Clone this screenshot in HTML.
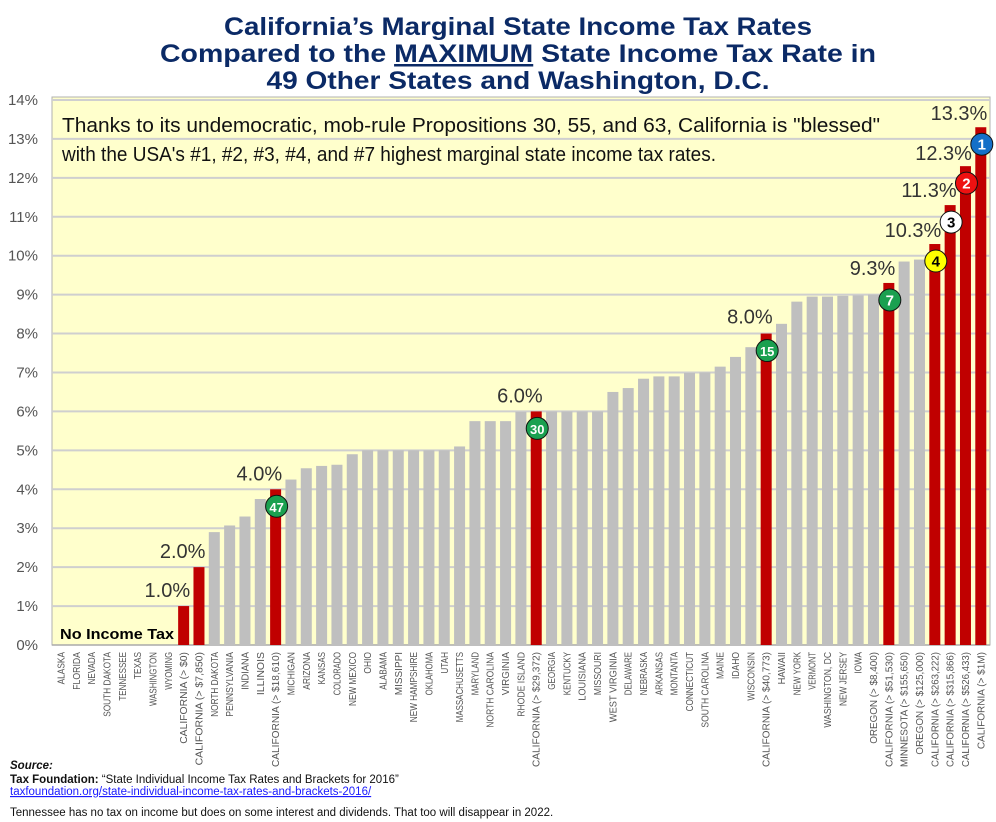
<!DOCTYPE html>
<html><head><meta charset="utf-8"><style>
body{margin:0;background:#fff;width:996px;height:822px;overflow:hidden;font-family:"Liberation Sans",sans-serif}
svg{display:block}
</style></head><body>
<svg id="chart" width="996" height="822">
  <g font-family="Liberation Sans Narrow, Liberation Sans, sans-serif" font-weight="bold" font-size="25" fill="#0b2a66" text-anchor="middle">
    <text x="518" y="35" textLength="588" lengthAdjust="spacingAndGlyphs">California’s Marginal State Income Tax Rates</text>
    <text x="518" y="62" textLength="716" lengthAdjust="spacingAndGlyphs">Compared to the <tspan text-decoration="underline">MAXIMUM</tspan> State Income Tax Rate in</text>
    <text x="518" y="89" textLength="503" lengthAdjust="spacingAndGlyphs">49 Other States and Washington, D.C.</text>
  </g>
  <rect x="52" y="97" width="938" height="548" fill="#ffffcc" stroke="#b0b0b0"/>
  <g id="grid"></g>
  <g id="yticks"></g>
  <g id="bars"></g>
  <g id="xlabels"></g>
  <g id="annos"></g>
  <g font-size="20" fill="#111" font-family="Liberation Sans Narrow, Liberation Sans, sans-serif">
    <text x="62" y="132" textLength="818" lengthAdjust="spacingAndGlyphs">Thanks to its undemocratic, mob-rule Propositions 30, 55, and 63, California is "blessed"</text>
    <text x="62" y="161" textLength="654" lengthAdjust="spacingAndGlyphs">with the USA's #1, #2, #3, #4, and #7 highest marginal state income tax rates.</text>
  </g>
  <text x="60" y="639" font-size="15" font-weight="bold" fill="#000" textLength="114" lengthAdjust="spacingAndGlyphs">No Income Tax</text>
  <g font-size="11.5" fill="#111">
    <text x="10" y="769" font-weight="bold" font-style="italic">Source:</text>
    <text x="10" y="783"><tspan font-weight="bold">Tax Foundation:</tspan> “State Individual Income Tax Rates and Brackets for 2016”</text>
    <text x="10" y="795" fill="#1a1aff" text-decoration="underline">taxfoundation.org/state-individual-income-tax-rates-and-brackets-2016/</text>
    <text x="10" y="816">Tennessee has no tax on income but does on some interest and dividends. That too will disappear in 2022.</text>
  </g>
</svg>
<script>
const categories = ["ALASKA","FLORIDA","NEVADA","SOUTH DAKOTA","TENNESSEE","TEXAS","WASHINGTON","WYOMING","CALIFORNIA (> $0)","CALIFORNIA (> $7,850)","NORTH DAKOTA","PENNSYLVANIA","INDIANA","ILLINOIS","CALIFORNIA (> $18,610)","MICHIGAN","ARIZONA","KANSAS","COLORADO","NEW MEXICO","OHIO","ALABAMA","MISSIPPI","NEW HAMPSHIRE","OKLAHOMA","UTAH","MASSACHUSETTS","MARYLAND","NORTH CAROLINA","VIRGINIA","RHODE ISLAND","CALIFORNIA (> $29,372)","GEORGIA","KENTUCKY","LOUISIANA","MISSOURI","WEST VIRGINIA","DELAWARE","NEBRASKA","ARKANSAS","MONTANTA","CONNECTICUT","SOUTH CAROLINA","MAINE","IDAHO","WISCONSIN","CALIFORNIA (> $40,773)","HAWAII","NEW YORK","VERMONT","WASHINGTON, DC","NEW JERSEY","IOWA","OREGON (> $8,400)","CALIFORNIA (> $51,530)","MINNESOTA (> $155,650)","OREGON (> $125,000)","CALIFORNIA (> $263,222)","CALIFORNIA (> $315,866)","CALIFORNIA (> $526,433)","CALIFORNIA (> $1M)"];
const rates = [0,0,0,0,0,0,0,0,1.0,2.0,2.9,3.07,3.3,3.75,4.0,4.25,4.54,4.6,4.63,4.9,5.0,5.0,5.0,5.0,5.0,5.0,5.1,5.75,5.75,5.75,5.99,6.0,6.0,6.0,6.0,6.0,6.5,6.6,6.84,6.9,6.9,6.99,7.0,7.15,7.4,7.65,8.0,8.25,8.82,8.95,8.95,8.97,8.98,9.0,9.3,9.85,9.9,10.3,11.3,12.3,13.3];
const isCalifornia = categories.map(c => c.startsWith("CALIFORNIA"));
const yTicks = [0,1,2,3,4,5,6,7,8,9,10,11,12,13,14];
const valueLabelIdx = [8,9,14,31,46,54,57,58,59,60];
const valueLabelText = ["1.0%","2.0%","4.0%","6.0%","8.0%","9.3%","10.3%","11.3%","12.3%","13.3%"];
const valueLabelDy = [-16,-16,-16,-16,-17,-15,-14,-15,-13,-14];
const rankIdx = [14,31,46,54,57,58,59,60];
const rankText = ["47","30","15","7","4","3","2","1"];
const rankColor = ["#1aa050","#1aa050","#1aa050","#1aa050","#ffff00","#ffffff","#ee1111","#1470c8"];

const NS="http://www.w3.org/2000/svg";
const y0=645, pxPer=38.93, x0=61, step=15.33, bw=11;
const yS=v=>y0-v*pxPer, xS=i=>x0+i*step;
function mk(tag,attrs,parent){const e=document.createElementNS(NS,tag);for(const k in attrs)e.setAttribute(k,attrs[k]);parent.appendChild(e);return e;}
const grid=document.getElementById('grid'),yt=document.getElementById('yticks'),bars=document.getElementById('bars'),xl=document.getElementById('xlabels'),an=document.getElementById('annos');
yTicks.forEach(t=>{
  if(t>0){const g=mk('line',{x1:52,x2:990,y1:yS(t),y2:yS(t),stroke:'#cfcfcf','stroke-width':2},grid);
  
  }
  const l=mk('text',{x:38,y:yS(t)+5,'text-anchor':'end','font-size':15,fill:'#555'},yt);
  l.textContent=t+'%';
  
  
});
mk('line',{x1:52,x2:990,y1:y0,y2:y0,stroke:'#aaa','stroke-width':1.5},grid);
categories.forEach((c,i)=>{
  const v=rates[i];
  if(v>0){const r=mk('rect',{x:xS(i)-bw/2,y:yS(v),width:bw,height:v*pxPer,fill:isCalifornia[i]?'#c00000':'#bfbfbf'},bars);
  
  }
  const t=mk('text',{transform:`translate(${xS(i)+3.5},652) rotate(-90)`,'text-anchor':'end','font-size':10,fill:'#555',textLength:Math.min(c.length*5.4,115),lengthAdjust:'spacingAndGlyphs','font-family':'Liberation Sans Narrow, Liberation Sans, sans-serif'},xl);
  t.textContent=c;
  
  
});
valueLabelIdx.forEach((i,k)=>{
  const t=mk('text',{x:xS(i)+bw/2+1,y:yS(rates[i])+valueLabelDy[k]+7,'text-anchor':'end','font-size':20,fill:'#333'},an);
  t.textContent=valueLabelText[k];
  
  
});
rankIdx.forEach((i,k)=>{
  const g=mk('g',{},an);
  
  
  const cx=xS(i)+1, cy=yS(rates[i])+17;
  mk('circle',{cx:cx,cy:cy,r:11,fill:rankColor[k],stroke:'#111','stroke-width':1},g);
  const dark=rankColor[k]==='#ffff00'||rankColor[k]==='#ffffff';
  const t=mk('text',{x:cx,y:cy+5.5,'text-anchor':'middle','font-size':rankText[k].length>1?13:15,'font-weight':'bold',fill:dark?'#000':'#fff'},g);
  t.textContent=rankText[k];
});
</script>
</body></html>
